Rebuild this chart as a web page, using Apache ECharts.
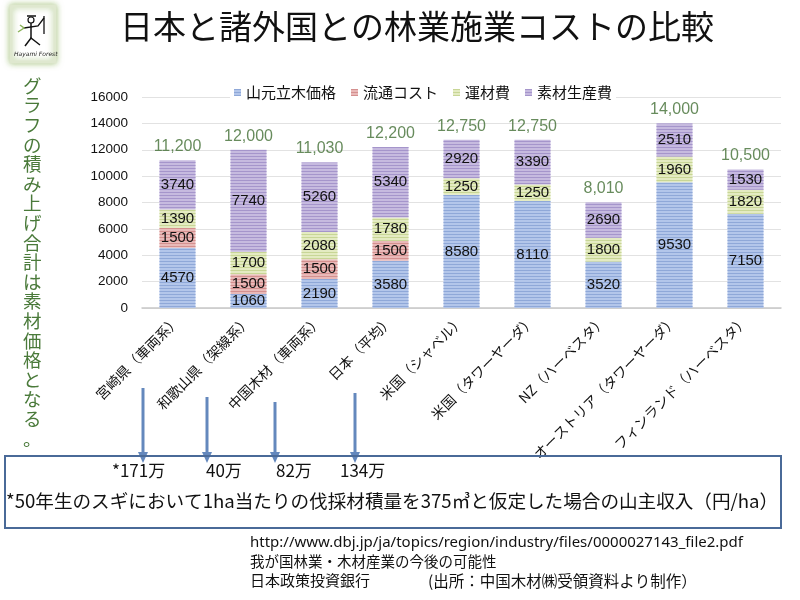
<!DOCTYPE html>
<html><head><meta charset="utf-8">
<script src="https://cdn.jsdelivr.net/npm/echarts@6/dist/echarts.min.js"></script>
<style>html,body{margin:0;padding:0;background:#fff}#c{width:800px;height:600px}</style>
</head><body><div id="c"></div>
<script>
const categories = ['宮崎県（車両系）','和歌山県（架線系）','中国木材（車両系）','日本（平均）','米国（シャベル）','米国（タワーヤーダ）','NZ（ハーベスタ）','オーストリア（タワーヤーダ）','フィンランド（ハーベスタ）'];
const standingTimber = [4570,1060,2190,3580,8580,8110,3520,9530,7150];
const distribution = [1500,1500,1500,1500,null,null,null,null,null];
const transport = [1390,1700,2080,1780,1250,1250,1800,1960,1820];
const production = [3740,7740,5260,5340,2920,3390,2690,2510,1530];
const totals = [11200,12000,11030,12200,12750,12750,8010,14000,10500];
const seriesNames = ['山元立木価格','流通コスト','運材費','素材生産費'];
const yTicks = {min:0, max:16000, interval:2000};
const incomeLabels = ['*171万','40万','82万','134万'];

const JP = '"Noto Sans CJK JP", sans-serif';
const NUM = '"Liberation Sans", "Noto Sans CJK JP", sans-serif';

function mk(name, data, color, stripe){
  return {
    name, type:'bar', stack:'a', data, barWidth:36,
    itemStyle:{color, decal:{symbol:'rect', symbolSize:1, dashArrayX:[1,0], dashArrayY:[1,2], rotation:0, color:stripe}},
    label:{show:true, position:'inside', color:'#111', fontFamily:NUM, fontSize:15,
      formatter:p=> (p.value==null||p.value===0)?'':String(p.value)}
  };
}

const chart = echarts.init(document.getElementById('c'));
const vText = 'グラフの積み上げ合計は素材価格となる。'.split('').join('\n');
const arrowXs = [143,207,275,355];
const arrowTops = [388,397,402,393];
const graphic = [];
// logo
graphic.push({type:'rect', shape:{x:11,y:6,width:44,height:56}, style:{fill:'#fff', stroke:'#dfe8cf', lineWidth:3, shadowBlur:6, shadowColor:'rgba(140,180,90,0.7)'}});
graphic.push({type:'polyline', shape:{points:[[27,16],[36,16]]}, style:{stroke:'#111', lineWidth:1.5}});
graphic.push({type:'circle', shape:{cx:31,cy:20,r:3}, style:{fill:'none', stroke:'#111', lineWidth:1.2}});
graphic.push({type:'polyline', shape:{points:[[31,23],[31,38]]}, style:{stroke:'#111', lineWidth:1.5}});
graphic.push({type:'polyline', shape:{points:[[24,28],[38,26],[44,18]]}, style:{stroke:'#111', lineWidth:1.3}});
graphic.push({type:'polyline', shape:{points:[[44,16],[44,34]]}, style:{stroke:'#111', lineWidth:1.3}});
graphic.push({type:'polyline', shape:{points:[[25,46],[31,38],[40,45]]}, style:{stroke:'#111', lineWidth:1.5}});
graphic.push({type:'polyline', shape:{points:[[18,32],[24,28],[20,25]]}, style:{stroke:'#8bb35a', lineWidth:1.5}});
graphic.push({type:'text', left:14, top:51, style:{text:'Hayami Forest', font:'italic 6px "DejaVu Sans"', fill:'#222'}});
// title
graphic.push({type:'text', left:120, top:10, style:{text:'日本と諸外国との林業施業コストの比較', font:'33px '+JP, fill:'#111'}});
// vertical text
graphic.push({type:'text', left:23, top:76, style:{text:vText, font:'18.5px '+JP, lineHeight:19.6, fill:'#4a7a3a', align:'center'}});
// arrows
arrowXs.forEach((x,i)=>{
  graphic.push({type:'line', shape:{x1:x,y1:arrowTops[i],x2:x,y2:454}, style:{stroke:'#6488bd', lineWidth:3}});
  graphic.push({type:'polygon', shape:{points:[[x-5,452],[x+5,452],[x,463]]}, style:{fill:'#6488bd'}});
});
// box
graphic.push({type:'rect', shape:{x:5,y:456,width:776,height:72}, style:{fill:'none', stroke:'#4a6a98', lineWidth:2}, z:10});
const incomeX = [112,206,276,340];
incomeLabels.forEach((t,i)=>graphic.push({type:'text', left:incomeX[i], top:462, style:{text:t, font:'17px '+JP, fill:'#111'}}));
graphic.push({type:'text', left:6, top:492, style:{text:'*50年生のスギにおいて1ha当たりの伐採材積量を375㎥と仮定した場合の山主収入（円/ha）', font:'18.6px '+JP, fill:'#111'}});
// source
graphic.push({type:'text', left:250, top:535, style:{text:'http://www.dbj.jp/ja/topics/region/industry/files/0000027143_file2.pdf', font:'15px "Noto Sans", sans-serif', fill:'#111'}});
graphic.push({type:'text', left:250, top:554, style:{text:'我が国林業・木材産業の今後の可能性', font:'14.5px '+JP, fill:'#111'}});
graphic.push({type:'text', left:250, top:573, style:{text:'日本政策投資銀行', font:'15px '+JP, fill:'#111'}});
graphic.push({type:'text', left:428, top:573, style:{text:'(出所：中国木材㈱受領資料より制作）', font:'15.5px '+JP, fill:'#111'}});

chart.setOption({
  animation:false,
  textStyle:{fontFamily:JP},
  legend:{data:seriesNames, left:230, top:84, itemWidth:7, itemHeight:7, icon:'rect', itemGap:15,
    backgroundColor:'#fff', padding:[1,4], textStyle:{fontSize:15, color:'#111', fontFamily:JP}},
  grid:{left:142, right:19, top:97, bottom:292, containLabel:false},
  xAxis:{type:'category', data:categories, axisTick:{show:false},
    axisLine:{lineStyle:{color:'#c8c8c8', width:1.5}},
    axisLabel:{interval:0, rotate:45, fontSize:14, color:'#111', fontFamily:JP, margin:10}},
  yAxis:{type:'value', min:yTicks.min, max:yTicks.max, interval:yTicks.interval,
    axisLabel:{fontSize:13.5, color:'#111', fontFamily:NUM, margin:14, formatter:v=>String(v)},
    splitLine:{lineStyle:{color:'#e2e2e2'}}},
  series:[
    mk(seriesNames[0], standingTimber, '#b3c6ea', '#8fa8d8'),
    mk(seriesNames[1], distribution, '#e9b9b8', '#d4908f'),
    mk(seriesNames[2], transport, '#e4ebc2', '#c8d696'),
    mk(seriesNames[3], production, '#c6badf', '#a595cb'),
    {name:'合計', type:'scatter', data:totals, symbolSize:1, itemStyle:{color:'rgba(0,0,0,0)'},
      label:{show:true, position:'top', distance:5, color:'#416e33', fontSize:16, fontFamily:NUM,
        formatter:p=>p.value.toLocaleString('en-US')}, z:5}
  ],
  graphic
});
</script></body></html>
